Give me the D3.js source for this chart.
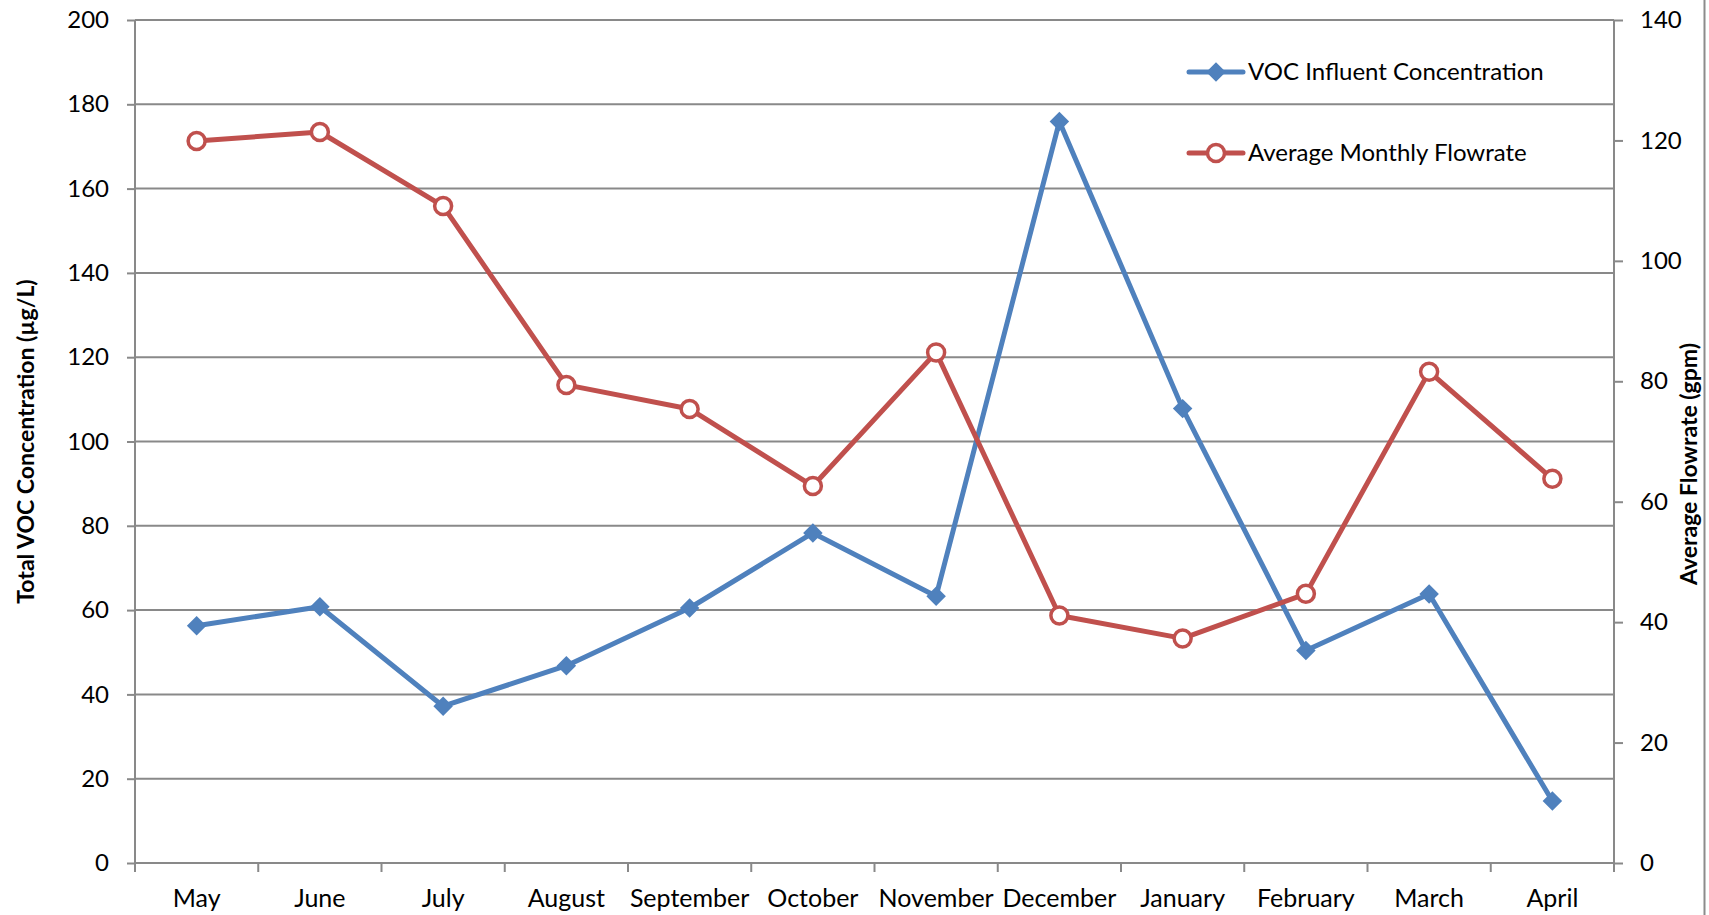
<!DOCTYPE html>
<html>
<head>
<meta charset="utf-8">
<script src="https://cdn.jsdelivr.net/npm/d3@7"></script>
<style>
  html, body { margin: 0; padding: 0; background: #fff; }
  svg { display: block; }
  text { font-family: Lato, "Open Sans", sans-serif; fill: #000; }
</style>
</head>
<body>
<svg id="chart" width="1709" height="915"></svg>
<script>
const months = ["May","June","July","August","September","October","November","December","January","February","March","April"];
const vocValues = [56.3, 60.8, 37.2, 46.8, 60.5, 78.3, 63.3, 175.9, 107.8, 50.4, 63.8, 14.7];
const flowValues = [119.9, 121.4, 109.1, 79.4, 75.4, 62.6, 84.8, 41.1, 37.3, 44.7, 81.6, 63.8];
const leftTicks = [0,20,40,60,80,100,120,140,160,180,200];
const rightTicks = [0,20,40,60,80,100,120,140];
const seriesNames = ["VOC Influent Concentration", "Average Monthly Flowrate"];
const leftTitle = "Total VOC Concentration (µg/L)";
const rightTitle = "Average Flowrate (gpm)";

const svg = d3.select("#chart");
const pL = 135, pR = 1614, pT = 20, pB = 863;
const blue = "#4F81BD", red = "#C0504D", grid = "#898989";

const x = d3.scaleBand().domain(months).range([pL, pR]);
const yL = d3.scaleLinear().domain([0, 200]).range([pB, pT]);
const yR = d3.scaleLinear().domain([0, 140]).range([pB, pT]);

// gridlines
svg.append("g").selectAll("line").data(leftTicks.filter(d => d > 0)).join("line")
  .attr("x1", pL).attr("x2", pR)
  .attr("y1", d => yL(d)).attr("y2", d => yL(d))
  .attr("stroke", grid).attr("stroke-width", 2);

// left axis
const gL = svg.append("g").attr("transform", `translate(${pL},0)`)
  .call(d3.axisLeft(yL).tickValues(leftTicks).tickSize(8).tickPadding(18));
// right axis
const gR = svg.append("g").attr("transform", `translate(${pR},0)`)
  .call(d3.axisRight(yR).tickValues(rightTicks).tickSize(9).tickPadding(17));
// bottom axis
const gB = svg.append("g").attr("transform", `translate(0,${pB})`)
  .call(d3.axisBottom(x).tickSize(0).tickPadding(26));
gB.selectAll(".tick line").remove();
svg.append("g").selectAll("line").data(months.concat(["_end"])).join("line")
  .attr("x1", (d,i) => pL + i * x.step()).attr("x2", (d,i) => pL + i * x.step())
  .attr("y1", pB).attr("y2", pB + 9)
  .attr("stroke", grid).attr("stroke-width", 2);

[gL, gR, gB].forEach(g => {
  g.selectAll(".domain").attr("stroke", grid).attr("stroke-width", 2);
  g.selectAll(".tick line").attr("stroke", grid).attr("stroke-width", 2);
  g.selectAll("text").style("font-size", "24px").style("font-family", "Lato, sans-serif").attr("fill", "#000");
});
gB.select(".domain").attr("d", `M${pL},0H${pR}`);
gL.select(".domain").attr("d", `M0,${pB}V${pT}`);
gR.select(".domain").attr("d", `M0,${pB}V${pT}`);
gB.selectAll("text").style("font-size", "25px");

// right border line
svg.append("line").attr("x1", 1704.5).attr("x2", 1704.5).attr("y1", 0).attr("y2", 915)
  .attr("stroke", "#8c8c8c").attr("stroke-width", 2);

// axis titles
svg.append("text").attr("transform", `translate(34,${(pT+pB)/2}) rotate(-90)`)
  .attr("text-anchor", "middle").style("font-size", "23px").style("font-weight", "bold")
  .text(leftTitle);
svg.append("text").attr("transform", `translate(1697,464) rotate(-90)`)
  .attr("text-anchor", "middle").style("font-size", "23px").style("font-weight", "bold")
  .text(rightTitle);

// lines
const cx = i => x(months[i]) + x.bandwidth() / 2;
const lineL = d3.line().x((d,i) => cx(i)).y(d => yL(d));
const lineR = d3.line().x((d,i) => cx(i)).y(d => yR(d));

svg.append("path").datum(vocValues).attr("d", lineL)
  .attr("fill", "none").attr("stroke", blue).attr("stroke-width", 5).attr("stroke-linejoin", "round");
svg.append("path").datum(flowValues).attr("d", lineR)
  .attr("fill", "none").attr("stroke", red).attr("stroke-width", 5).attr("stroke-linejoin", "round");

const diamond = d3.symbol().type(d3.symbolSquare).size(190);
svg.append("g").selectAll("path").data(vocValues).join("path")
  .attr("d", diamond)
  .attr("transform", (d,i) => `translate(${cx(i)},${yL(d)}) rotate(45)`)
  .attr("fill", blue);

svg.append("g").selectAll("circle").data(flowValues).join("circle")
  .attr("cx", (d,i) => cx(i)).attr("cy", d => yR(d))
  .attr("r", 8.5).attr("fill", "#fff").attr("stroke", red).attr("stroke-width", 3.5);

// legend
const legend = svg.append("g");
const legY = [72, 153];
legend.selectAll("line").data(seriesNames).join("line")
  .attr("x1", 1189).attr("x2", 1243).attr("y1", (d,i) => legY[i]).attr("y2", (d,i) => legY[i])
  .attr("stroke", (d,i) => i ? red : blue).attr("stroke-width", 5).attr("stroke-linecap", "round");
legend.append("path").attr("d", diamond)
  .attr("transform", `translate(1216,${legY[0]}) rotate(45)`).attr("fill", blue);
legend.append("circle").attr("cx", 1216).attr("cy", legY[1]).attr("r", 8.5)
  .attr("fill", "#fff").attr("stroke", red).attr("stroke-width", 3.5);
legend.selectAll("text").data(seriesNames).join("text")
  .attr("x", 1248).attr("y", (d,i) => legY[i]).attr("dy", "0.35em")
  .style("font-size", "24px").text(d => d);
</script>
</body>
</html>
